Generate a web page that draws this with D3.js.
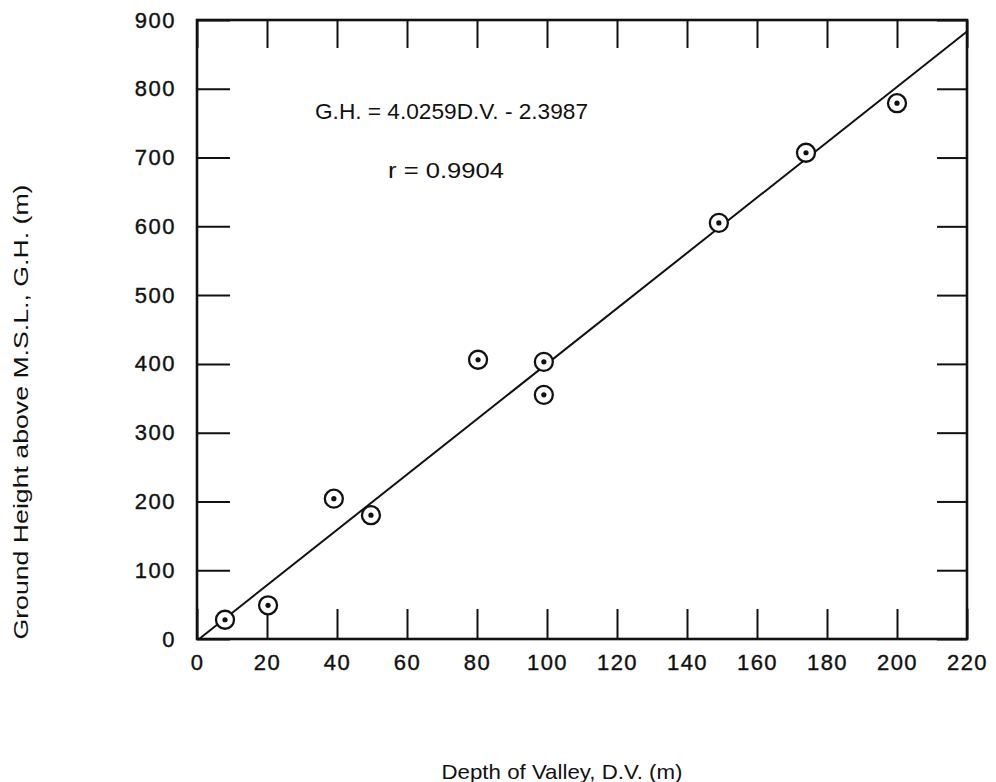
<!DOCTYPE html>
<html>
<head>
  <meta charset="utf-8">
  <title>Ground height vs depth of valley</title>
  <script src="https://cdnjs.cloudflare.com/ajax/libs/d3/7.8.5/d3.min.js"></script>
  <style>
    body { margin: 0; background: #fff; }
    text { font-family: "Liberation Sans", Arial, sans-serif; fill: #111; }
  </style>
</head>
<body>
  <svg></svg>
  <script>
// values
var depth  = [8, 20.3, 39.1, 49.7, 80.3, 99.1, 99.1, 149.1, 174, 200];
var height = [28, 49, 204, 180, 406, 403, 355, 605, 707, 779];

var xTicks = [0, 20, 40, 60, 80, 100, 120, 140, 160, 180, 200, 220];
var yTicks = [0, 100, 200, 300, 400, 500, 600, 700, 800, 900];

// regression given on the chart
var slope = 4.0259, intercept = -2.3987;
var eqText = "G.H. = 4.0259D.V. - 2.3987";
var rText = "r = 0.9904";

var w = 996, h = 782;
var svg = d3.select("svg").attr("width", w).attr("height", h);

var margin = {left: 197, right: 29, top: 20, bottom: 143};

var x = d3.scaleLinear().domain([0, 220]).range([margin.left, w - margin.right]);
var y = d3.scaleLinear().domain([0, 900]).range([h - margin.bottom, margin.top]);

// frame
svg.append("rect")
  .attr("x", x(0)).attr("y", y(900))
  .attr("width", x(220) - x(0)).attr("height", y(0) - y(900))
  .attr("fill", "none").attr("stroke", "#111").attr("stroke-width", 2.6);

function styleAxis(g) {
  g.select(".domain").remove();
  g.selectAll(".tick line").attr("stroke", "#111").attr("stroke-width", 2);
}

var gb = svg.append("g")
  .attr("transform", "translate(0," + y(0) + ")")
  .call(d3.axisBottom(x).tickValues(xTicks).tickSizeInner(-30).tickSizeOuter(0).tickPadding(15))
  .call(styleAxis);
gb.selectAll("text")
  .attr("font-size", 22).attr("letter-spacing", 1.5)
  .attr("stroke", "#111").attr("stroke-width", 0.4)
  .attr("font-family", "Liberation Sans, Arial, sans-serif");

svg.append("g")
  .attr("transform", "translate(0," + y(900) + ")")
  .call(d3.axisTop(x).tickValues(xTicks).tickSizeInner(-28).tickSizeOuter(0).tickFormat(""))
  .call(styleAxis);

var gl = svg.append("g")
  .attr("transform", "translate(" + x(0) + ",0)")
  .call(d3.axisLeft(y).tickValues(yTicks).tickSizeInner(-33).tickSizeOuter(0).tickPadding(21))
  .call(styleAxis);
gl.selectAll("text")
  .attr("font-size", 22).attr("letter-spacing", 1.5)
  .attr("stroke", "#111").attr("stroke-width", 0.4)
  .attr("font-family", "Liberation Sans, Arial, sans-serif");

svg.append("g")
  .attr("transform", "translate(" + x(220) + ",0)")
  .call(d3.axisRight(y).tickValues(yTicks).tickSizeInner(-30).tickSizeOuter(0).tickFormat(""))
  .call(styleAxis);

// fitted line
var x0 = -intercept / slope;
svg.append("line")
  .attr("x1", x(x0)).attr("y1", y(slope * x0 + intercept))
  .attr("x2", x(220)).attr("y2", y(slope * 220 + intercept))
  .attr("stroke", "#111").attr("stroke-width", 2);

// circled dots
var pts = svg.append("g").selectAll("g")
  .data(depth)
  .enter().append("g")
  .attr("transform", function(d, i) { return "translate(" + x(d) + "," + y(height[i]) + ")"; });
pts.append("circle").attr("r", 9).attr("fill", "#fff").attr("stroke", "#111").attr("stroke-width", 2.3);
pts.append("circle").attr("r", 2.6).attr("fill", "#111");

// annotations
svg.append("text")
  .attr("x", 315).attr("y", 119)
  .attr("font-size", 21.5).attr("textLength", 273).attr("lengthAdjust", "spacingAndGlyphs")
  .text(eqText);
svg.append("text")
  .attr("x", 388).attr("y", 178)
  .attr("font-size", 21.5).attr("textLength", 116).attr("lengthAdjust", "spacingAndGlyphs")
  .text(rText);

// axis titles
svg.append("text")
  .attr("x", 562).attr("y", 779)
  .attr("text-anchor", "middle")
  .attr("font-size", 21).attr("textLength", 241).attr("lengthAdjust", "spacingAndGlyphs")
  .text("Depth of Valley, D.V. (m)");
svg.append("text")
  .attr("transform", "translate(28,412) rotate(-90)")
  .attr("text-anchor", "middle")
  .attr("font-size", 21).attr("textLength", 455).attr("lengthAdjust", "spacingAndGlyphs")
  .text("Ground Height above M.S.L., G.H. (m)");
  </script>
</body>
</html>
